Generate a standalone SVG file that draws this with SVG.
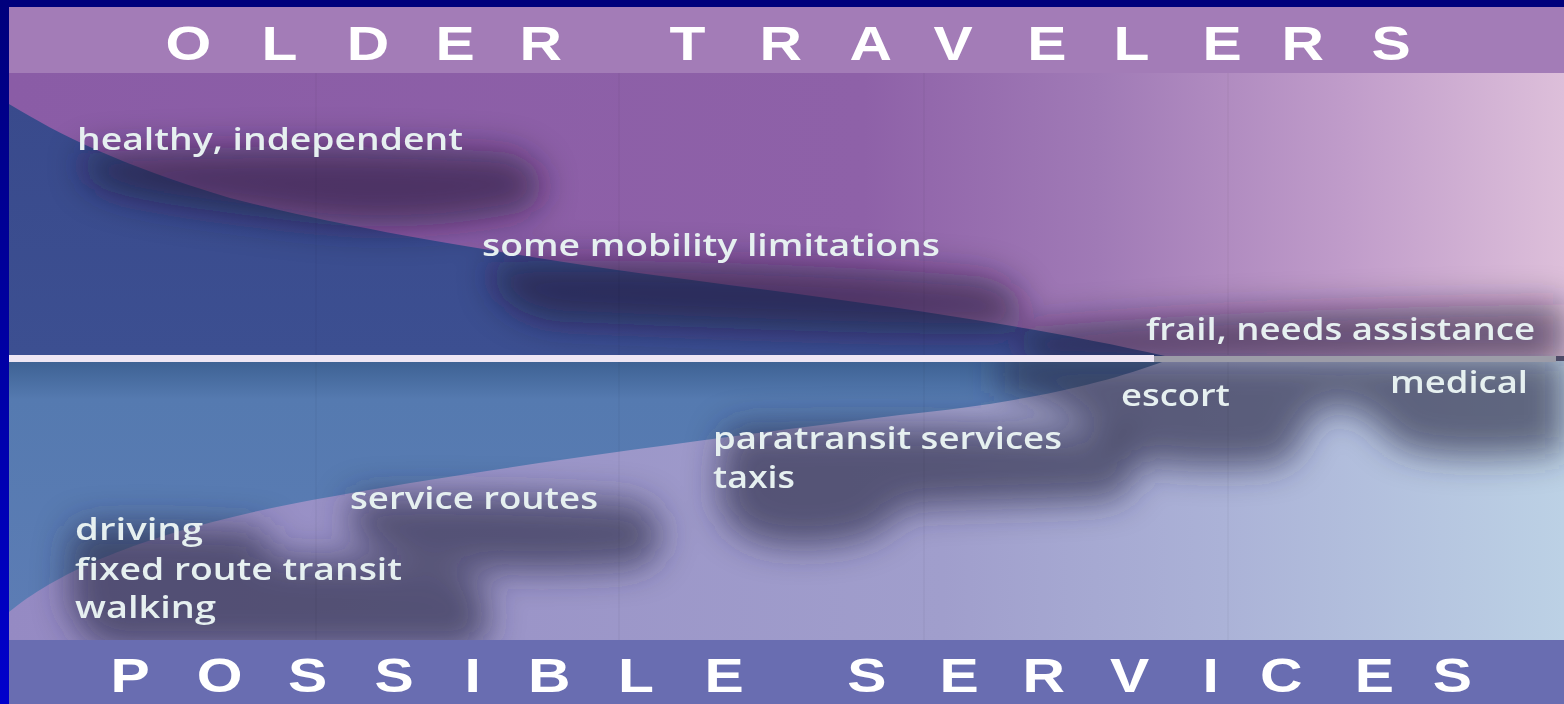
<svg xmlns="http://www.w3.org/2000/svg" width="1564" height="704" viewBox="0 0 1564 704">
<style>
.title{font-family:"Liberation Sans",Arial,sans-serif;font-weight:bold;font-size:49px;fill:#ffffff}
.lbl{font-family:"Open Sans","Noto Sans",sans-serif;font-weight:600;font-size:31px;fill:#e6f0f0}
.shU{fill:#1c0c34;opacity:.58}
.shL{fill:#2a2846;opacity:.64}
.seam{stroke:#000;stroke-opacity:.05;stroke-width:1.2}
</style>
<defs>
<linearGradient id="gBorder" x1="0" y1="0" x2="0" y2="1"><stop offset="0" stop-color="#00007c"/><stop offset="1" stop-color="#0000cc"/></linearGradient>
<linearGradient id="gUpper" gradientUnits="userSpaceOnUse" x1="9" y1="0" x2="1564" y2="0">
<stop offset="0" stop-color="#8a5ca6"/><stop offset="0.55" stop-color="#8e61a8"/><stop offset="0.7" stop-color="#a07ab6"/><stop offset="0.86" stop-color="#c09cca"/><stop offset="1" stop-color="#ddbfda"/></linearGradient>
<linearGradient id="gLower" gradientUnits="userSpaceOnUse" x1="9" y1="0" x2="1564" y2="0">
<stop offset="0" stop-color="#958ac3"/><stop offset="0.6" stop-color="#a09ecc"/><stop offset="0.78" stop-color="#abb2d7"/><stop offset="1" stop-color="#bcd1e5"/></linearGradient>
<linearGradient id="gUBlue" gradientUnits="userSpaceOnUse" x1="0" y1="100" x2="0" y2="355"><stop offset="0" stop-color="#394a8c"/><stop offset="1" stop-color="#3c4f91"/></linearGradient>
<linearGradient id="gLBlue" gradientUnits="userSpaceOnUse" x1="0" y1="362" x2="0" y2="612"><stop offset="0" stop-color="#3e6294"/><stop offset="0.15" stop-color="#557ab0"/><stop offset="1" stop-color="#5c7cb4"/></linearGradient>
<filter id="fBlur" x="-30%" y="-100%" width="160%" height="300%"><feGaussianBlur stdDeviation="17"/></filter>
<clipPath id="cUp"><rect x="9" y="73" width="1555" height="283"/></clipPath>
<clipPath id="cLow"><rect x="9" y="361" width="1555" height="279"/></clipPath>
</defs>

<rect x="0" y="0" width="1564" height="704" fill="#00007c"/>
<rect x="0" y="0" width="9" height="704" fill="url(#gBorder)"/>
<rect x="9" y="350" width="1555" height="16" fill="#4c4a66"/>

<g id="upper-area">
<rect x="9" y="73" width="1555" height="283" fill="url(#gUpper)"/>
<path d="M9,104 C60,135 120,165 230,198 C330,224 450,245 617,270 C800,295 1000,318 1165,356 L9,356 Z" fill="url(#gUBlue)"/>
<g clip-path="url(#cUp)">
<g filter="url(#fBlur)">
<path class="shU" d="M90,152 C200,145 420,145 505,152 C550,160 555,205 515,214 C450,226 380,232 300,222 C200,210 120,200 95,185 C80,175 80,158 90,152 Z"/>
<path class="shU" d="M500,262 C600,258 800,262 980,276 C1030,285 1035,325 1000,334 C900,336 700,328 560,322 C500,316 480,275 500,262 Z"/>
<path class="shU" d="M1040,326 C1200,312 1400,306 1564,304 L1564,365 L1040,365 C1010,355 1015,332 1040,326 Z"/>
</g>
</g>
</g>

<g id="lower-area">
<rect x="9" y="361" width="1555" height="279" fill="url(#gLower)"/>
<path d="M9,612 C60,570 150,530 312,500 C480,469 700,440 900,415 C1020,403 1100,385 1165,361 L9,361 Z" fill="url(#gLBlue)"/>
<g clip-path="url(#cLow)">
<g filter="url(#fBlur)">
<path class="shL" d="M1000,355 L1564,355 L1564,452 C1480,460 1410,458 1390,440 C1375,415 1345,400 1320,410 C1300,425 1300,458 1280,464 C1230,470 1150,468 1125,455 C1105,430 1060,400 1000,390 Z"/>
<path class="shL" d="M735,428 C850,425 1000,426 1110,432 C1145,440 1145,490 1110,500 C1000,506 930,504 900,510 C885,535 860,545 800,546 C740,546 718,520 720,490 C720,460 722,432 735,428 Z"/>
<path class="shL" d="M360,496 C450,494 560,496 635,502 C668,512 668,555 640,566 C580,572 500,572 450,566 C400,560 360,548 352,530 C348,512 350,500 360,496 Z"/>
<path class="shL" d="M80,526 C150,522 240,526 270,530 C260,548 262,556 300,558 C360,558 430,560 470,575 C495,595 495,640 470,650 L110,650 C80,640 65,610 68,585 C70,560 68,535 80,526 Z"/>
</g>
</g>
<line class="seam" x1="316" y1="362" x2="316" y2="640"/>
<line class="seam" x1="619" y1="362" x2="619" y2="640"/>
<line class="seam" x1="924" y1="362" x2="924" y2="640"/>
<line class="seam" x1="1228" y1="362" x2="1228" y2="640"/>
</g>
<g id="upper-seams">
<line class="seam" x1="316" y1="73" x2="316" y2="355"/>
<line class="seam" x1="619" y1="73" x2="619" y2="355"/>
<line class="seam" x1="924" y1="73" x2="924" y2="355"/>
<line class="seam" x1="1228" y1="73" x2="1228" y2="355"/>
</g>

<g id="divider">
<rect x="9" y="355" width="1145" height="7" fill="#eee6f4"/>
<rect x="1154" y="356" width="402" height="6" fill="#9c9ca8"/>
</g>

<g id="title-top">
<rect x="9" y="7" width="1555" height="66" fill="#a37cb7"/>
<text class="title" transform="scale(1.2,1)" y="60" x="138 218 289 363 433 500 558 633 708 778 856 928 1002 1068 1143">OLDER TRAVELERS</text>
</g>

<g id="title-bottom">
<rect x="9" y="640" width="1555" height="64" fill="#696db1"/>
<text class="title" transform="scale(1.2,1)" y="692" x="92 164 240 312 387 440 515 587 650 706 783 852 925 1002 1050 1129 1194">POSSIBLE SERVICES</text>
</g>

<g id="labels">
<g id="lbl-healthy"><text class="lbl" x="77" y="150" textLength="386" lengthAdjust="spacingAndGlyphs">healthy, independent</text></g>
<g id="lbl-some"><text class="lbl" x="482" y="256" textLength="458" lengthAdjust="spacingAndGlyphs">some mobility limitations</text></g>
<g id="lbl-frail"><text class="lbl" x="1146" y="340" textLength="389" lengthAdjust="spacingAndGlyphs">frail, needs assistance</text></g>
<g id="lbl-escort"><text class="lbl" x="1121" y="406" textLength="109" lengthAdjust="spacingAndGlyphs">escort</text></g>
<g id="lbl-medical"><text class="lbl" x="1390" y="393" textLength="138" lengthAdjust="spacingAndGlyphs">medical</text></g>
<g id="lbl-paratransit"><text class="lbl" x="713" y="449" textLength="349" lengthAdjust="spacingAndGlyphs">paratransit services</text></g>
<g id="lbl-taxis"><text class="lbl" x="713" y="488" textLength="82" lengthAdjust="spacingAndGlyphs">taxis</text></g>
<g id="lbl-service"><text class="lbl" x="350" y="509" textLength="248" lengthAdjust="spacingAndGlyphs">service routes</text></g>
<g id="lbl-driving"><text class="lbl" x="75" y="540" textLength="128" lengthAdjust="spacingAndGlyphs">driving</text></g>
<g id="lbl-fixed"><text class="lbl" x="75" y="580" textLength="327" lengthAdjust="spacingAndGlyphs">fixed route transit</text></g>
<g id="lbl-walking"><text class="lbl" x="75" y="618" textLength="141" lengthAdjust="spacingAndGlyphs">walking</text></g>
</g>
</svg>
